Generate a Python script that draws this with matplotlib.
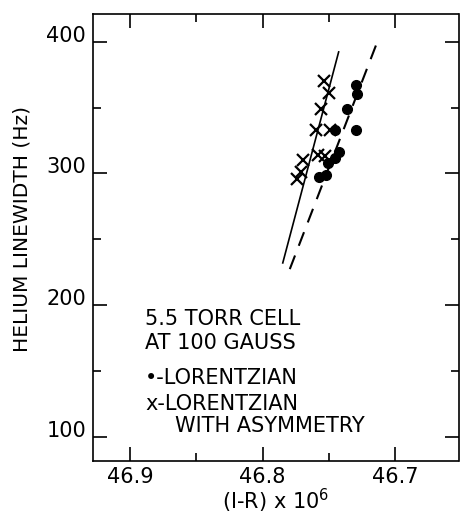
import matplotlib
matplotlib.use('Agg')
import matplotlib.pyplot as plt
from matplotlib.ticker import MultipleLocator

plt.rcParams['font.family'] = ['DejaVu Sans']
plt.rcParams['mathtext.default'] = 'regular'

# Lorentzian fit (dots)
lor_x = [46.7297, 46.7286, 46.7361, 46.7297, 46.7455, 46.7425, 46.7455, 46.7508, 46.7523, 46.7572]
lor_y = [367.1, 360.3, 348.9, 332.6, 332.6, 316.0, 311.4, 307.7, 298.4, 297.3]

# Lorentzian with asymmetry (crosses)
asy_x = [46.7538, 46.7497, 46.7561, 46.7598, 46.7493, 46.7583, 46.7531, 46.7696, 46.7711, 46.7741]
asy_y = [370.5, 361.0, 348.9, 333.3, 333.0, 314.0, 313.2, 310.2, 301.4, 295.4]

# fitted lines (end points)
solid_x = [46.7847, 46.7425]
solid_y = [232.0, 392.2]
dash_x = [46.7794, 46.7139]
dash_y = [227.3, 398.3]

xticks = [46.9, 46.8, 46.7]
yticks = [100, 200, 300, 400]

fig = plt.figure(figsize=(4.61, 5.17), dpi=100)
ax = fig.add_axes([93/461, 1 - 461/517, 365.5/461, 447/517])

ax.plot(solid_x, solid_y, color='black', lw=1.2)
ax.plot(dash_x, dash_y, color='black', lw=1.5, dashes=(7, 5))
ax.plot(lor_x, lor_y, 'o', color='black', ms=7, ls='none')
ax.plot(asy_x, asy_y, 'x', color='black', ms=8.5, mew=1.6, ls='none')

ax.set_xlim(46.928, 46.652)
ax.set_ylim(81.6, 421.0)
ax.set_xticks(xticks)
ax.set_xticklabels(['46.9', '46.8', '46.7'])
ax.set_yticks(yticks)
ax.xaxis.set_minor_locator(MultipleLocator(0.05))
ax.yaxis.set_minor_locator(MultipleLocator(50))

ax.tick_params(which='both', direction='in', top=True, right=True, width=1.2, labelsize=15)
ax.tick_params(which='major', length=10)
ax.tick_params(which='minor', length=5.5)
ax.tick_params(axis='x', pad=4)
ax.tick_params(axis='y', pad=5)
for t in ax.get_yticklabels():
    t.set_va('baseline')
for s in ax.spines.values():
    s.set_linewidth(1.2)

ax.set_ylabel('HELIUM LINEWIDTH (Hz)', fontsize=14.5)
ax.yaxis.set_label_coords(-0.167, 0.52)
ax.set_xlabel('(I-R) x 10$^6$', fontsize=15)
ax.xaxis.set_label_coords(0.5, -0.058)

tf = ax.transAxes
ax.text(0.142, 0.318, '5.5 TORR CELL', transform=tf, fontsize=15, va='center')
ax.text(0.142, 0.264, 'AT 100 GAUSS', transform=tf, fontsize=15, va='center')
ax.text(0.142, 0.186, '\u2022-LORENTZIAN', transform=tf, fontsize=15, va='center')
ax.text(0.142, 0.128, 'x-LORENTZIAN', transform=tf, fontsize=15, va='center')
ax.text(0.224, 0.078, 'WITH ASYMMETRY', transform=tf, fontsize=15, va='center')

fig.savefig('out.png', dpi=100)
